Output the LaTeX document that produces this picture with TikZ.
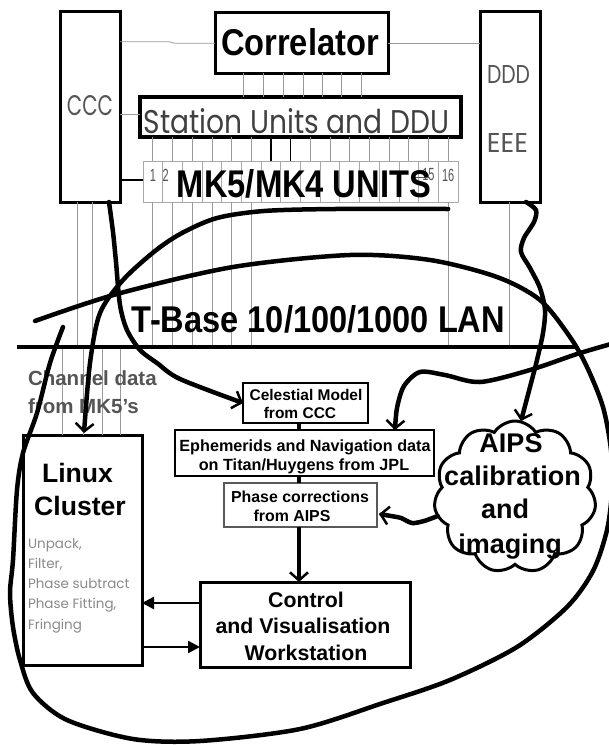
\documentclass[tikz,border=0pt]{standalone}
\usepackage{fontspec}
\setmainfont{Liberation Sans}
\newfontfamily\gothic{Poppins}
\usetikzlibrary{arrows.meta,shapes.symbols,calc}
\definecolor{wirec}{HTML}{9A9A9A}
\definecolor{cellc}{HTML}{A8A8A8}
\definecolor{softtxt}{HTML}{555555}
\definecolor{listtxt}{HTML}{8A8A8A}
\begin{document}
\begin{tikzpicture}[x=1pt,y=-1pt,
  box/.style={draw=black,line width=3pt,inner sep=0pt,outer sep=0pt},
  sbox/.style={draw=black,line width=1.3pt,inner sep=0pt,outer sep=0pt},
  cell/.style={draw=cellc,line width=0.8pt,inner sep=0pt,outer sep=0pt,minimum width=19.6875pt,minimum height=41pt},
  wire/.style={draw=wirec,line width=0.8pt},
  fat/.style={line width=4.5pt,line cap=round,line join=round},
  barb/.style={-{Straight Barb[length=8pt,width=18pt,line width=2.5pt]}},
  tri/.style={line width=2.5pt,-{Triangle[length=12pt,width=12pt]}},
  txt/.style={inner sep=0pt,outer sep=0pt,anchor=base},
  txtw/.style={inner sep=0pt,outer sep=0pt,anchor=base west},
  lst/.style={txtw,text=listtxt,font=\gothic\fontsize{13.5}{16}\selectfont},
  num/.style={inner sep=0pt,outer sep=0pt,text=softtxt},
]
\useasboundingbox[fill=white] (0,0) rectangle (609,745);

% ---------- upper boxes ----------
\node[box,minimum width=60pt,minimum height=191pt] (ccc) at (90,106.5) {};
\node[box,minimum width=60pt,minimum height=191pt] (ddd) at (510,106.5) {};
\node[box,minimum width=173pt,minimum height=61pt] (corr) at (301.5,42.5) {};
\node[box,line width=3.5pt,minimum width=321pt,minimum height=40pt] (su) at (300.5,117) {};
\foreach \i in {1,...,16} \node[cell] (c\i) at ({143+19.6875*(\i-0.5)},181.5) {};

% ---------- lower boxes ----------
\node[sbox,minimum width=125pt,minimum height=40pt] (cel) at (305.5,403) {};
\node[sbox,minimum width=259pt,minimum height=46pt] (eph) at (304.5,453) {};
\node[draw=gray!70!black,line width=2pt,inner sep=0pt,outer sep=0pt,minimum width=153pt,minimum height=44pt] (pha) at (300.5,505) {};
\node[box,minimum width=119pt,minimum height=230pt] (linux) at (82.5,550) {};
\node[box,minimum width=210pt,minimum height=85pt] (ctrl) at (305,624.5) {};
\node[cloud,draw,line width=3pt,cloud puffs=11,cloud puff arc=115,cloud ignores aspect,minimum width=162pt,minimum height=152pt,inner sep=0pt,outer sep=0pt] (cloud) at (515,497) {};

% ---------- thin wires ----------
\draw[wire] (ccc.east |- 0,41.7) -- (169,41.7) -- (175,43.3) -- (corr.west |- 0,43.3);
\draw[wire] (corr.east |- 0,43.3) -- (ddd.west |- 0,43.3);
\draw[wire] (ccc.east |- 0,114) -- (su.west |- 0,114);
\draw[line width=1.2pt] (ccc.east |- 0,180) -- (c1.west |- 0,180);
\foreach \x in {243,263,283,303,322,341,361} \draw[wire] (\x,0 |- corr.south) -- (\x,0 |- su.north);
\foreach \i in {1,...,6,9,10,11,12,13,14,15,16} \draw[wire] (c\i.north) -- (c\i.north |- su.south);
\foreach \i in {7,8} \draw[line width=1.4pt] (c\i.north) -- (c\i.north |- su.south);

\coordinate (lanL) at (17,347);
\coordinate (lanR) at (578,347);
\foreach \i in {1,...,6,16} \draw[wire] (c\i.south) -- (c\i.south |- lanL);
\foreach \x in {77,92} \draw[wire] (\x,0 |- ccc.south) -- (\x,0 |- lanL);
\draw[wire] (509,0 |- ddd.south) -- (509,0 |- lanL);
\foreach \x in {62,83,102,120} \draw[wire] (\x,0 |- lanL) -- (\x,0 |- linux.north);
\draw[line width=4pt] (lanL) -- (lanR);

% ---------- texts ----------
\node[txt] (corrT) at (300,55) {\resizebox{158pt}{27pt}{\bfseries Correlator}};
\node[txt,text=softtxt] (cccT) at (90,115) {\resizebox{46pt}{20pt}{\gothic CCC}};
\node[txt,text=softtxt] (dddT) at (508.5,83) {\resizebox{43pt}{18pt}{\gothic DDD}};
\node[txt,text=softtxt] (eeeT) at (507.5,152) {\resizebox{41pt}{19pt}{\gothic EEE}};
\node[txt,text=black!75] (suT) at (296.5,133) {\resizebox{305pt}{25pt}{\gothic Station Units and DDU}};
\node[num] (n1) at (c1.center |- 0,175) {\scalebox{1}[1.6]{\fontsize{11}{11}\selectfont 1}};
\node[num,anchor=west] (n2) at (c2.west |- 0,175) {\scalebox{1}[1.6]{\fontsize{11}{11}\selectfont 2}};
\node[num] (n15) at (c15.center |- 0,175) {\scalebox{1}[1.6]{\fontsize{11}{11}\selectfont 15}};
\node[num] (n16) at (c16.center |- 0,175) {\scalebox{1}[1.6]{\fontsize{11}{11}\selectfont 16}};
\draw[line width=1pt,softtxt] ($(c15.west)+(-6,-4.5)$) -- ($(c15.west)+(10,-4.5)$);
\node[txt] (mkT) at (304,197) {\resizebox{254pt}{28pt}{\bfseries MK5/MK4 UNITS}};
\node[txt] (lanT) at (318.5,332) {\resizebox{373pt}{27pt}{\bfseries T-Base 10/100/1000 LAN}};

\node[txtw,text=softtxt,font=\bfseries\fontsize{20.5}{24}\selectfont] (chan1) at (28,385) {Channel data};
\node[txtw,text=softtxt,font=\bfseries\fontsize{20.5}{24}\selectfont] (chan2) at (28,413) {from MK5's};

\node[txt,font=\bfseries\fontsize{15.5}{18}\selectfont] (celT1) at (306,400) {Celestial Model};
\node[txt,font=\bfseries\fontsize{15.5}{18}\selectfont] (celT2) at (300,418) {from CCC};
\node[txt,font=\bfseries\fontsize{16.2}{18}\selectfont] (ephT1) at (305,451) {Ephemerids and Navigation data};
\node[txt,font=\bfseries\fontsize{16.2}{18}\selectfont] (ephT2) at (304,470) {on Titan/Huygens from JPL};
\node[txt,font=\bfseries\fontsize{15.9}{18}\selectfont] (phaT1) at (300,502) {Phase corrections};
\node[txt,font=\bfseries\fontsize{15.9}{18}\selectfont] (phaT2) at (292,521) {from AIPS};

\node[txt,font=\bfseries\fontsize{26.6}{30}\selectfont] (linT1) at (77.5,482) {Linux};
\node[txt,font=\bfseries\fontsize{26.6}{30}\selectfont] (linT2) at (80,515) {Cluster};
\node[lst] (lst1) at (28,548) {Unpack,};
\node[lst] (lst2) at (28,568) {Filter,};
\node[lst] (lst3) at (28,588) {Phase subtract};
\node[lst] (lst4) at (28,608) {Phase Fitting,};
\node[lst] (lst5) at (28,629) {Fringing};

\node[txt,font=\bfseries\fontsize{21.3}{24}\selectfont] (ctlT1) at (306,607) {Control};
\node[txt,font=\bfseries\fontsize{21.3}{24}\selectfont] (ctlT2) at (303,633) {and Visualisation};
\node[txt,font=\bfseries\fontsize{21.3}{24}\selectfont] (ctlT3) at (306,660) {Workstation};

\node[txt,font=\bfseries\fontsize{27}{30}\selectfont] (aipT1) at (511,452) {AIPS};
\node[txt,font=\bfseries\fontsize{27}{30}\selectfont] (aipT2) at (512.5,485) {calibration};
\node[txt,font=\bfseries\fontsize{27}{30}\selectfont] (aipT3) at (505,518) {and};
\node[txt,font=\bfseries\fontsize{27}{30}\selectfont] (aipT4) at (510,553) {imaging};

% ---------- connectors between lower boxes ----------
\draw[line width=4pt] (cel.south -| 299,0) -- (eph.north -| 299,0);
\draw[line width=4pt] (eph.south -| 299,0) -- (pha.north -| 299,0);
\draw[fat,barb,line cap=butt] (pha.south -| 299,0) -- (ctrl.north -| 299,0);
\draw[tri] (ctrl.west |- 0,603) -- (linux.east |- 0,603);
\draw[tri] (linux.east |- 0,647) -- (ctrl.west |- 0,647);

% ---------- thick hand-drawn curves ----------
\coordinate (c1s) at (ccc.south -| 109,0);
\draw[fat,barb] plot[smooth] coordinates {(c1s) (113,232) (116,262) (120,305) (127,330) (140,350) (157,363) (180,379) (cel.west)};

\coordinate (mks) at (c16.south |- 0,209);
\draw[fat,barb] plot[smooth] coordinates {(mks) (335,209) (264,211) (217,218) (182,233) (155,251) (123,280) (100,313) (90,363) (84,433)};

\coordinate (dds) at (ddd.south -| 526,0);
\coordinate (cloudtop) at (521,0 |- cloud.north);
\draw[fat,barb] plot[smooth] coordinates {(dds) (536,210) (534,222) (524,238) (521,252) (530,268) (540,288) (545,310) (543,333) (537,360) (530,387) (cloudtop)};

\coordinate (redge) at (611,344);
\coordinate (ephtop) at (395,0 |- eph.north);
\draw[fat,barb] plot[smooth] coordinates {(redge) (577,354) (530,370) (480,382) (445,375) (420,372) (404,386) (397,408) (ephtop)};

\coordinate (cw) at ($(cloud.west)+(2,19)$);
\coordinate (pe) at ($(pha.east)+(2,9)$);
\draw[fat,barb] plot[smooth] coordinates {(cw) (424,521) (412,523) (401,518) (391,516) (pe)};

\coordinate (loopA) at (35,321);
\coordinate (loopB) at (63,327);
\draw[fat] plot[smooth] coordinates {(loopA) (117,294) (233,267) (350,255) (430,260) (497,277) (540,300) (570,337) (587,367) (603,407) (611,450) (612,490) (607,530) (593,571) (567,607) (517,647) (450,680) (383,703) (300,729) (200,741) (133,739) (67,720) (33,693) (20,660) (13,627) (10,593) (13,560) (17,490) (23,453) (37,413) (50,363) (loopB)};
\end{tikzpicture}
\end{document}
